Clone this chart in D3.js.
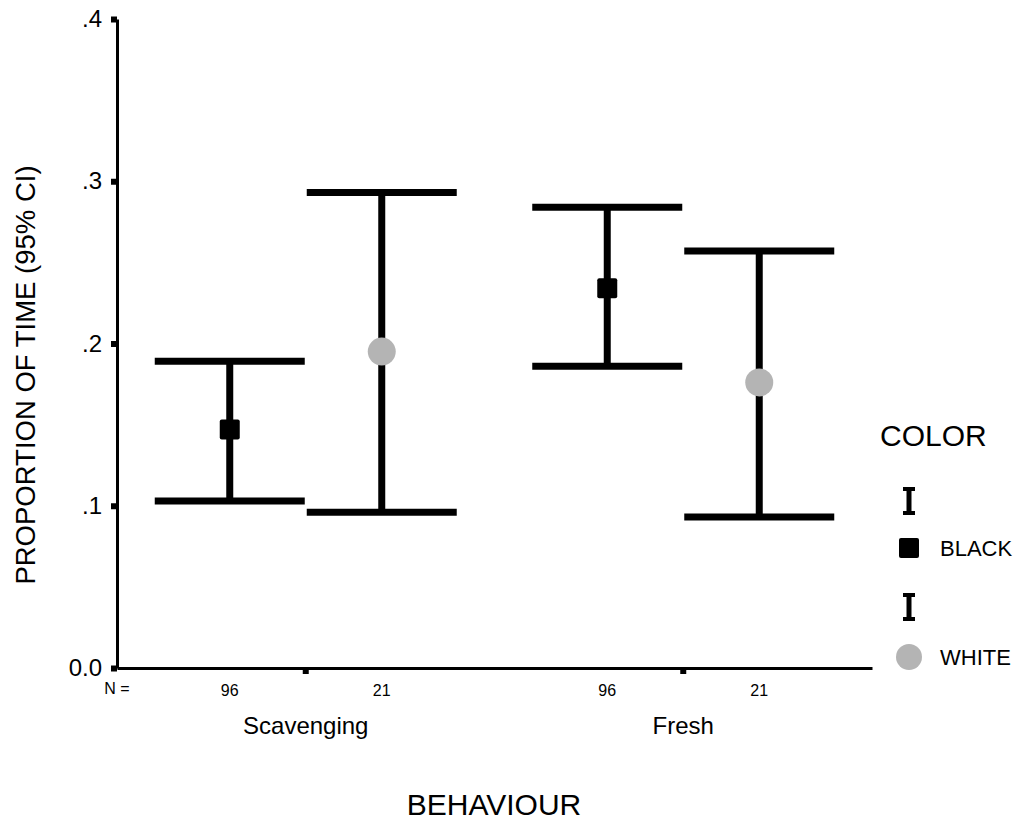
<!DOCTYPE html>
<html>
<head>
<meta charset="utf-8">
<script src="https://cdn.jsdelivr.net/npm/d3@7"></script>
<style>
  html, body { margin: 0; padding: 0; background: #fff; }
  svg { display: block; font-family: "Liberation Sans", Arial, sans-serif; }
</style>
</head>
<body>
<script>
// ---- data ----
const categories = ["Scavenging", "Fresh"];
const groups = ["BLACK", "WHITE"];
const nCounts = [[96, 21], [96, 21]];           // per category, per group
const means  = [[0.147, 0.195], [0.234, 0.176]];
const lower  = [[0.103, 0.096], [0.186, 0.093]];
const upper  = [[0.189, 0.293], [0.284, 0.257]];
const yTicks = [0, 0.1, 0.2, 0.3, 0.4];
const yTickLabels = ["0.0", ".1", ".2", ".3", ".4"];

const W = 1023, H = 820;
const svg = d3.select("body").append("svg").attr("width", W).attr("height", H);

const x = d3.scaleBand().domain(categories).range([117, 872]);
const bw = x.bandwidth();
const xg = d3.scalePoint().domain(groups).range([bw / 2 - 76, bw / 2 + 76]);
const y = d3.scaleLinear().domain([0, 0.4]).range([668, 19]);

const rows = [];
categories.forEach((c, i) => groups.forEach((g, j) => rows.push({
  cat: c, grp: g, n: nCounts[i][j], mean: means[i][j], lo: lower[i][j], hi: upper[i][j]
})));
const cx = d => x(d.cat) + xg(d.grp);

// y axis
const yAxis = d3.axisLeft(y).tickValues(yTicks)
  .tickFormat((d, i) => yTickLabels[i]).tickSizeInner(6).tickSizeOuter(0).tickPadding(9);
const gy = svg.append("g").attr("transform", "translate(117,0)").call(yAxis);
gy.select(".domain").attr("stroke", "#000").attr("stroke-width", 3);
gy.selectAll(".tick line").attr("stroke", "#000").attr("stroke-width", 6);
gy.selectAll(".tick text").attr("font-size", 24).attr("fill", "#000")
  .attr("font-family", "Liberation Sans, Arial, sans-serif");

// x axis
const xAxis = d3.axisBottom(x).tickSizeInner(6).tickSizeOuter(0).tickFormat("");
const gx = svg.append("g").attr("transform", "translate(0,668)").call(xAxis);
gx.select(".domain").attr("stroke", "#000").attr("stroke-width", 3);
gx.selectAll(".tick line").attr("stroke", "#000").attr("stroke-width", 6);

// N labels
svg.append("text").attr("x", 117).attr("y", 694).attr("text-anchor", "middle")
  .attr("font-size", 16).text("N =");
svg.selectAll(".nlab").data(rows).enter().append("text")
  .attr("x", cx).attr("y", 696).attr("text-anchor", "middle")
  .attr("font-size", 16).text(d => d.n);

// category labels
svg.selectAll(".cat").data(categories).enter().append("text")
  .attr("x", d => x(d) + bw / 2).attr("y", 734).attr("text-anchor", "middle")
  .attr("font-size", 24).text(d => d);

// axis titles
svg.append("text").attr("x", 494).attr("y", 815).attr("text-anchor", "middle")
  .attr("font-size", 30).text("BEHAVIOUR");
svg.append("text").attr("transform", "translate(35,375) rotate(-90)")
  .attr("text-anchor", "middle").attr("font-size", 27.5).text("PROPORTION OF TIME (95% CI)");

// error bars
const capHalf = 75, thick = 7;
const eb = svg.selectAll(".eb").data(rows).enter().append("g");
eb.append("line").attr("x1", cx).attr("x2", cx)
  .attr("y1", d => y(d.lo)).attr("y2", d => y(d.hi))
  .attr("stroke", "#000").attr("stroke-width", thick);
eb.append("line").attr("x1", d => cx(d) - capHalf).attr("x2", d => cx(d) + capHalf)
  .attr("y1", d => y(d.hi)).attr("y2", d => y(d.hi))
  .attr("stroke", "#000").attr("stroke-width", thick);
eb.append("line").attr("x1", d => cx(d) - capHalf).attr("x2", d => cx(d) + capHalf)
  .attr("y1", d => y(d.lo)).attr("y2", d => y(d.lo))
  .attr("stroke", "#000").attr("stroke-width", thick);

// markers
const grey = "#b4b4b4";
eb.filter(d => d.grp === "BLACK").append("rect")
  .attr("x", d => cx(d) - 10).attr("y", d => y(d.mean) - 10)
  .attr("width", 20).attr("height", 20).attr("rx", 2).attr("fill", "#000");
eb.filter(d => d.grp === "WHITE").append("circle")
  .attr("cx", cx).attr("cy", d => y(d.mean)).attr("r", 14).attr("fill", grey);

// legend
const lg = svg.append("g");
lg.append("text").attr("x", 880).attr("y", 446).attr("font-size", 30).text("COLOR");
function ibeam(cy) {
  lg.append("line").attr("x1", 909).attr("x2", 909).attr("y1", cy - 13).attr("y2", cy + 13)
    .attr("stroke", "#000").attr("stroke-width", 5);
  lg.append("line").attr("x1", 903).attr("x2", 915).attr("y1", cy - 12).attr("y2", cy - 12)
    .attr("stroke", "#000").attr("stroke-width", 4);
  lg.append("line").attr("x1", 903).attr("x2", 915).attr("y1", cy + 12).attr("y2", cy + 12)
    .attr("stroke", "#000").attr("stroke-width", 4);
}
ibeam(501);
lg.append("rect").attr("x", 899).attr("y", 538).attr("width", 20).attr("height", 20)
  .attr("rx", 2).attr("fill", "#000");
lg.append("text").attr("x", 940).attr("y", 556).attr("font-size", 22).text(groups[0]);
ibeam(607);
lg.append("circle").attr("cx", 909).attr("cy", 657).attr("r", 13).attr("fill", grey);
lg.append("text").attr("x", 940).attr("y", 665).attr("font-size", 22).text(groups[1]);
</script>
</body>
</html>
